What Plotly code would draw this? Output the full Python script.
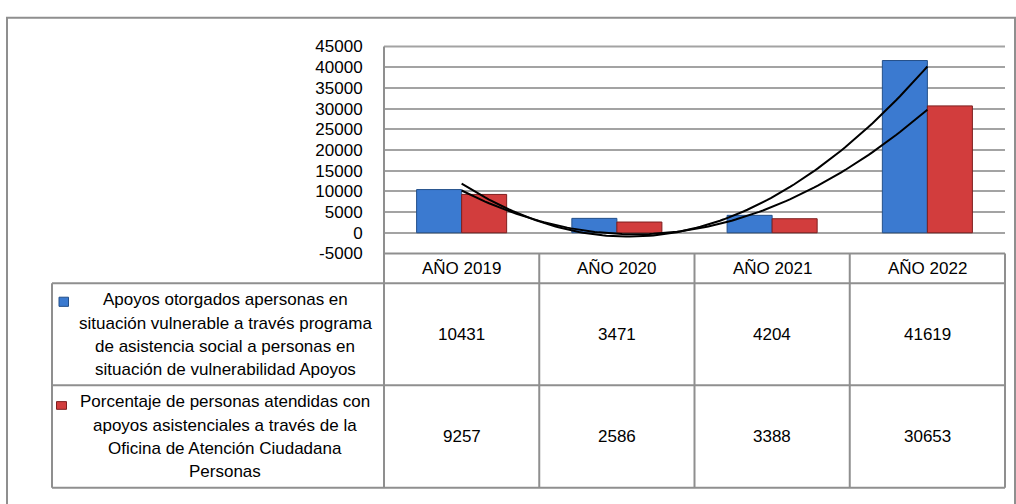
import numpy as np
import plotly.graph_objects as go

# ---------------- data ----------------
categories = ["AÑO 2019", "AÑO 2020", "AÑO 2021", "AÑO 2022"]
apoyos = [10431, 3471, 4204, 41619]
personas = [9257, 2586, 3388, 30653]
series_apoyos_lines = [
    "Apoyos otorgados apersonas en",
    "situación vulnerable a través programa",
    "de asistencia social a personas en",
    "situación de vulnerabilidad Apoyos",
]
series_personas_lines = [
    "Porcentaje de personas atendidas con",
    "apoyos asistenciales a través de la",
    "Oficina de Atención Ciudadana",
    "Personas",
]
y_tick_values = [-5000, 0, 5000, 10000, 15000, 20000, 25000, 30000, 35000, 40000, 45000]

# ---------------- layout helpers ----------------
W, H = 1016, 504


def px(x):
    return x / W


def py(y):
    return 1 - y / H


PLOT_L, PLOT_R, PLOT_T, PLOT_B = 384, 1005, 39, 254
ROW1_T, ROW2_T, TABLE_B = 285, 391, 497.5
TABLE_L = 52
FONT = "Liberation Sans, Arial, sans-serif"
GRID = "#a3a3a3"
BORDER = "#8f8f8f"
BLUE, BLUE_EDGE = "#3b7ad0", "#24508a"
RED, RED_EDGE = "#d23d3d", "#7e1f1f"

xpos = list(range(len(categories)))

fig = go.Figure()
fig.add_trace(go.Bar(x=xpos, y=apoyos, name=" ".join(series_apoyos_lines),
                     marker=dict(color=BLUE, line=dict(color=BLUE_EDGE, width=1))))
fig.add_trace(go.Bar(x=xpos, y=personas, name=" ".join(series_personas_lines),
                     marker=dict(color=RED, line=dict(color=RED_EDGE, width=1))))

# polynomial (order 2) trendlines, as in the original spreadsheet chart
xs = np.linspace(0, len(categories) - 1, 120)
for vals in (apoyos, personas):
    coef = np.polyfit(xpos, vals, 2)
    fig.add_trace(go.Scatter(x=xs, y=np.polyval(coef, xs), mode="lines",
                             line=dict(color="black", width=2), hoverinfo="skip"))

shapes = []


def line(x0, y0, x1, y1, color=BORDER, width=2):
    shapes.append(dict(type="line", xref="paper", yref="paper",
                       x0=px(x0), y0=py(y0), x1=px(x1), y1=py(y1),
                       line=dict(color=color, width=width)))


# outer chart border
shapes.append(dict(type="rect", xref="paper", yref="paper",
                   x0=px(7), y0=py(9), x1=px(1015), y1=py(520),
                   line=dict(color=BORDER, width=2), fillcolor="rgba(0,0,0,0)"))
# plot top / bottom lines
line(PLOT_L, PLOT_T, PLOT_R, PLOT_T, GRID, 2)
line(PLOT_L, PLOT_B, PLOT_R, PLOT_B, BORDER, 2)
# data table
colw = (PLOT_R - PLOT_L) / len(categories)
for i in range(1, len(categories) + 1):
    line(PLOT_L + i * colw, PLOT_B, PLOT_L + i * colw, TABLE_B)
line(PLOT_L, PLOT_T, PLOT_L, TABLE_B)
line(TABLE_L, ROW1_T, TABLE_L, TABLE_B)
for yy in (ROW1_T, ROW2_T, TABLE_B):
    line(TABLE_L, yy, PLOT_R, yy)

# legend keys
shapes.append(dict(type="rect", xref="paper", yref="paper",
                   x0=px(59), y0=py(299.5), x1=px(68.5), y1=py(309),
                   line=dict(color=BLUE_EDGE, width=1), fillcolor=BLUE))
shapes.append(dict(type="rect", xref="paper", yref="paper",
                   x0=px(56.5), y0=py(408), x1=px(66.5), y1=py(416),
                   line=dict(color=RED_EDGE, width=1), fillcolor=RED))

annotations = []
tf = dict(family=FONT, size=17, color="#000000")
for i, c in enumerate(categories):
    annotations.append(dict(x=i, xref="x", y=py(269.5), yref="paper", text=c,
                            showarrow=False, font=tf, xanchor="center", yanchor="middle"))
    annotations.append(dict(x=i, xref="x", y=py(338.5), yref="paper", text=str(apoyos[i]),
                            showarrow=False, font=tf, xanchor="center", yanchor="middle"))
    annotations.append(dict(x=i, xref="x", y=py(444.5), yref="paper", text=str(personas[i]),
                            showarrow=False, font=tf, xanchor="center", yanchor="middle"))

for lines, center in ((series_apoyos_lines, 338.5), (series_personas_lines, 444.5)):
    n = len(lines)
    for k, t in enumerate(lines):
        yy = center + (k - (n - 1) / 2) * 24.3
        annotations.append(dict(x=px(225), xref="paper", y=py(yy), yref="paper", text=t,
                                showarrow=False, font=tf, xanchor="center", yanchor="middle"))

fig.update_layout(
    width=W, height=H,
    margin=dict(l=0, r=0, t=0, b=0),
    paper_bgcolor="white", plot_bgcolor="white",
    barmode="group", bargap=0.42, bargroupgap=0,
    showlegend=False,
    font=dict(family=FONT, size=17, color="#000000"),
    xaxis=dict(domain=[px(PLOT_L), px(PLOT_R)], range=[-0.5, len(categories) - 0.5],
               showticklabels=False, showgrid=False, zeroline=False, showline=False,
               fixedrange=True),
    yaxis=dict(domain=[py(PLOT_B), py(PLOT_T)], range=[-5000, 45000],
               tickvals=y_tick_values, ticktext=[str(v) for v in y_tick_values],
               showgrid=True, gridcolor=GRID, gridwidth=2, zeroline=False,
               showline=False, ticks="outside", ticklen=17, tickcolor="rgba(0,0,0,0)",
               tickfont=dict(family=FONT, size=17, color="#000000"), fixedrange=True),
    shapes=shapes,
    annotations=annotations,
)

fig.write_html(
    "out.html",
    config={"displayModeBar": False},
    post_script="document.body.style.margin='0px';document.body.style.overflow='hidden';",
)
